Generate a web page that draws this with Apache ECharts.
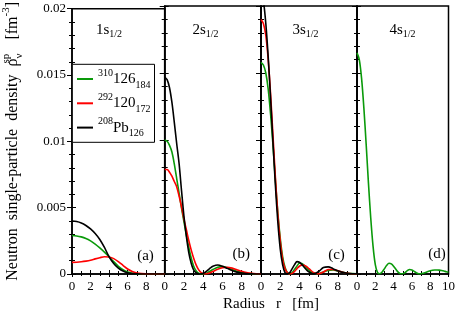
<!DOCTYPE html>
<html><head><meta charset="utf-8">
<script src="https://cdn.jsdelivr.net/npm/echarts@6/dist/echarts.min.js"></script>
<style>html,body{margin:0;padding:0;background:#fff}#c{width:458px;height:313px}</style>
</head><body><div id="c"></div>
<script>
// ---------- data ----------
const xTickLabels = [0, 2, 4, 6, 8, 10];
const panelTitles = ['1s', '2s', '3s', '4s'];
const panelSub = '1/2';
const panelLetters = ['(a)', '(b)', '(c)', '(d)'];
const seriesNames = ['n310', 'n292', 'n208'];

// 1s1/2
const r1 = [0,0.5,1,1.5,2,2.5,3,3.5,4,4.5,5,5.5,6,6.5,7,7.5,8,8.5,9,9.5,10];
const s1_310 = [0.00290,0.00287,0.00280,0.00268,0.00250,0.00226,0.00197,0.00165,0.00130,0.00093,0.00058,0.00032,0.00015,0.00006,0.00002,0.00001,0,0,0,0,0];
const s1_292 = [0.00088,0.00089,0.00092,0.00097,0.00104,0.00114,0.00123,0.00130,0.00128,0.00116,0.00093,0.00065,0.00038,0.00019,0.00008,0.00003,0.00001,0,0,0,0];
const s1_208 = [0.00400,0.00396,0.00385,0.00366,0.00340,0.00305,0.00260,0.00200,0.00130,0.00080,0.00045,0.00022,0.00009,0.00003,0.00001,0,0,0,0,0,0];

// 2s1/2
const r2 = [0,0.25,0.5,0.75,1,1.25,1.5,1.75,2,2.25,2.5,2.75,3,3.25,3.5,3.75,4,4.25,4.5,4.75,5,5.5,6,6.5,7,7.5,8,8.5,9,9.5,10];
const s2_310 = [0.0100,0.0099,0.0096,0.0091,0.0082,0.0071,0.0060,0.0049,0.0039,0.0029,0.0020,0.0012,0.0006,0.00025,0.00007,0.00001,0,0.00004,0.00012,0.00022,0.00033,0.00050,0.00055,0.00047,0.00034,0.00021,0.00012,0.00006,0.00003,0.00001,0];
const s2_292 = [0.0078,0.0078,0.0076,0.0073,0.0069,0.0065,0.0058,0.0050,0.0041,0.0033,0.0025,0.0018,0.0012,0.0007,0.00035,0.00013,0.00003,0,0.00003,0.00010,0.00018,0.00035,0.00047,0.00050,0.00044,0.00032,0.00020,0.00011,0.00005,0.00002,0.00001];
const s2_208 = [0.0147,0.0145,0.0139,0.0128,0.0113,0.0097,0.0082,0.0062,0.0043,0.0028,0.0016,0.0008,0.0003,0.0001,0.00002,0,0.00005,0.00015,0.00030,0.00045,0.00057,0.00067,0.00058,0.00042,0.00026,0.00014,0.00007,0.00003,0.00001,0,0];

// 3s1/2
const r3 = [0,0.25,0.5,0.75,1,1.25,1.5,1.75,2,2.25,2.5,2.75,3,3.25,3.5,3.75,4,4.25,4.5,4.75,5,5.5,6,6.5,7,7.5,8,8.5,9,9.5,10];
const s3_310 = [0.0158,0.0156,0.0150,0.0138,0.0119,0.0096,0.0070,0.0046,0.0027,0.0013,0.0005,0.0001,0.00001,0.0001,0.00035,0.0006,0.0008,0.00078,0.00065,0.00045,0.00027,0.00004,0.00003,0.00015,0.00027,0.00030,0.00023,0.00013,0.00006,0.00003,0.00001];
const s3_292 = [0.0190,0.0187,0.0178,0.0160,0.0134,0.0103,0.0072,0.0045,0.0025,0.0011,0.0004,0.0001,0,0.00005,0.0002,0.0004,0.00058,0.00066,0.00065,0.00055,0.00040,0.00010,0.00001,0.00015,0.00033,0.00034,0.00024,0.00013,0.00006,0.00002,0.00001];
const s3_208 = [0.0212,0.0204,0.0187,0.0162,0.0131,0.0098,0.0066,0.0039,0.0019,0.0007,0.0001,0.00002,0.0001,0.0004,0.0007,0.00092,0.00088,0.00072,0.00050,0.00030,0.00015,0.00001,0.00018,0.00048,0.00053,0.00040,0.00024,0.00012,0.00005,0.00002,0.00001];

// 4s1/2
const r4 = [0,0.25,0.5,0.75,1,1.25,1.5,1.75,2,2.25,2.5,2.75,3,3.25,3.5,3.75,4,4.25,4.5,4.75,5,5.25,5.5,5.75,6,6.25,6.5,6.75,7,7.25,7.5,7.75,8,8.25,8.5,8.75,9,9.25,9.5,9.75,10];
const s4_310 = [0.0165,0.0160,0.0146,0.0124,0.0097,0.0068,0.0042,0.0021,0.0007,0.0001,0.00002,0.00015,0.0004,0.00065,0.0008,0.00075,0.00058,0.00035,0.00014,0.00002,0.00002,0.0001,0.00025,0.00034,0.0003,0.0002,0.00008,0.00001,0.00002,0.00006,0.00012,0.00018,0.00024,0.00028,0.0003,0.0003,0.00029,0.00026,0.00022,0.00017,0.00013];

// ---------- chart ----------
const FONT = '"Liberation Serif", "Times New Roman", serif';
const colors = { n310: '#0a9a0a', n292: '#ff0000', n208: '#000000' };
const legendRich = {
  n310: ['310', '126', '184'],
  n292: ['292', '120', '172'],
  n208: ['208', 'Pb', '126']
};
const panels = [
  { r: r1, s: { n310: s1_310, n292: s1_292, n208: s1_208 } },
  { r: r2, s: { n310: s2_310, n292: s2_292, n208: s2_208 } },
  { r: r3, s: { n310: s3_310, n292: s3_292, n208: s3_208 } },
  { r: r4, s: { n310: s4_310 } }
];
const gridLeft = [68.3, 164.7, 261, 357];
const gridRight = [164.7, 261, 357, 450];
const titleLeft = [96, 192.5, 292.5, 389.5];
const letterPos = [[145.5, 256], [241.3, 254], [336.5, 255.5], [437, 254]];
const TOP = 6, BOTTOM = 274;

const zip = (r, v) => r.map((x, i) => [x, v[i]]);

const grid = [], xAxis = [], yAxis = [], series = [], title = [], graphic = [];
panels.forEach((p, i) => {
  grid.push({ left: gridLeft[i], top: TOP, width: gridRight[i] - gridLeft[i], height: BOTTOM - TOP,
    show: true, borderColor: '#000', borderWidth: 1.5, backgroundColor: 'transparent' });
  const xBase = { type: 'value', gridIndex: i, min: 0, max: 10, interval: 2, position: 'bottom', splitLine: { show: false } };
  xAxis.push(Object.assign({}, xBase, {
    axisLine: { lineStyle: { color: '#000', width: 1.5 } },
    axisTick: { inside: true, length: 4, lineStyle: { color: '#000', width: 1 } },
    minorTick: { show: true, splitNumber: 2, length: 3, lineStyle: { color: '#000', width: 1 } },
    axisLabel: { show: true, color: '#000', fontFamily: FONT, fontSize: 13, margin: 6,
      showMinLabel: true, showMaxLabel: i === 3 }
  }));
  xAxis.push(Object.assign({}, xBase, {
    axisLine: { show: false },
    axisTick: { inside: false, length: 3, lineStyle: { color: '#000', width: 1 } },
    minorTick: { show: true, splitNumber: 2, length: 2, lineStyle: { color: '#000', width: 1 } },
    axisLabel: { show: false }
  }));
  const yBase = { type: 'value', gridIndex: i, min: 0, max: 0.02, interval: 0.005, position: 'left', offset: 0, splitLine: { show: false } };
  yAxis.push(Object.assign({}, yBase, {
    axisLine: { lineStyle: { color: '#000', width: 1.5 } },
    axisTick: { inside: true, length: 4, lineStyle: { color: '#000', width: 1 } },
    minorTick: { show: true, splitNumber: 5, length: 3, lineStyle: { color: '#000', width: 1 } },
    axisLabel: { show: false }
  }));
  const yOut = Object.assign({}, yBase, {
    axisLine: { show: false },
    axisTick: { inside: false, length: 5, lineStyle: { color: '#000', width: 1 } },
    minorTick: { show: true, splitNumber: 5, length: 3, lineStyle: { color: '#000', width: 1 } },
    axisLabel: { show: i === 0, color: '#000', fontFamily: FONT, fontSize: 13, margin: 6 }
  });
  if (i === 0) {
    Object.assign(yOut, {
      name: 'Neutron  single-particle  density  ρ{sp|sp}{nu|ν}  [fm{sup|-3}]',
      nameLocation: 'middle', nameRotate: 90, nameGap: 47,
      nameTextStyle: { color: '#000', fontFamily: FONT, fontSize: 16, lineHeight: 24,
        rich: {
          sp: { fontFamily: FONT, fontSize: 11, color: '#000', verticalAlign: 'top', lineHeight: 11, width: 0.01 },
          nu: { fontFamily: FONT, fontSize: 11, color: '#000', verticalAlign: 'bottom', lineHeight: 12, padding: [0, 6, 0, 0] },
          sup: { fontFamily: FONT, fontSize: 11, color: '#000', verticalAlign: 'top', lineHeight: 11 }
        } }
    });
  }
  yAxis.push(yOut);
  Object.keys(p.s).forEach(name => {
    series.push({ type: 'line', name: name, xAxisIndex: 2 * i, yAxisIndex: 2 * i,
      data: zip(p.r, p.s[name]), showSymbol: false, smooth: 0.3, clip: true,
      lineStyle: { color: colors[name], width: 1.6 }, itemStyle: { color: colors[name] }, z: name === 'n208' ? 3 : 2 });
  });
  title.push({ text: '{m|' + panelTitles[i] + '}{s|' + panelSub + '}', left: titleLeft[i], top: 21, padding: 0,
    textStyle: { fontWeight: 'normal', rich: {
      m: { fontFamily: FONT, fontSize: 15, fontWeight: 'normal', color: '#000', lineHeight: 18, verticalAlign: 'middle' },
      s: { fontFamily: FONT, fontSize: 10, fontWeight: 'normal', color: '#000', lineHeight: 10, verticalAlign: 'bottom' }
    } } });
  graphic.push({ type: 'text', x: letterPos[i][0], y: letterPos[i][1],
    style: { text: panelLetters[i], font: '15px ' + FONT, fill: '#000', textAlign: 'center', textVerticalAlign: 'middle', align: 'center', verticalAlign: 'middle' } });
});
graphic.push({ type: 'text', x: 271, y: 304,
  style: { text: 'Radius   r   [fm]', font: '15px ' + FONT, fill: '#000', textAlign: 'center', textVerticalAlign: 'middle', align: 'center', verticalAlign: 'middle' } });

const chart = echarts.init(document.getElementById('c'), null, { renderer: 'canvas' });
chart.setOption({
  backgroundColor: '#fff',
  animation: false,
  title: title,
  grid: grid,
  xAxis: xAxis,
  yAxis: yAxis,
  series: series,
  graphic: graphic,
  legend: {
    data: seriesNames, orient: 'vertical', left: 72.3, top: 64.3,
    icon: 'rect', itemWidth: 16, itemHeight: 2, itemGap: 2.3,
    padding: [3.7, 4, 3.7, 4.7], borderColor: '#000', borderWidth: 1, backgroundColor: '#fff',
    selectedMode: false,
    formatter: n => '{sup|' + legendRich[n][0] + '}{m|' + legendRich[n][1] + '}{sub|' + legendRich[n][2] + '}',
    textStyle: { fontFamily: FONT, color: '#000', rich: {
      sup: { fontFamily: FONT, fontSize: 10, color: '#000', verticalAlign: 'top', lineHeight: 10 },
      m: { fontFamily: FONT, fontSize: 15, color: '#000', verticalAlign: 'middle', lineHeight: 22 },
      sub: { fontFamily: FONT, fontSize: 10, color: '#000', verticalAlign: 'bottom', lineHeight: 10 }
    } }
  }
});
</script></body></html>
